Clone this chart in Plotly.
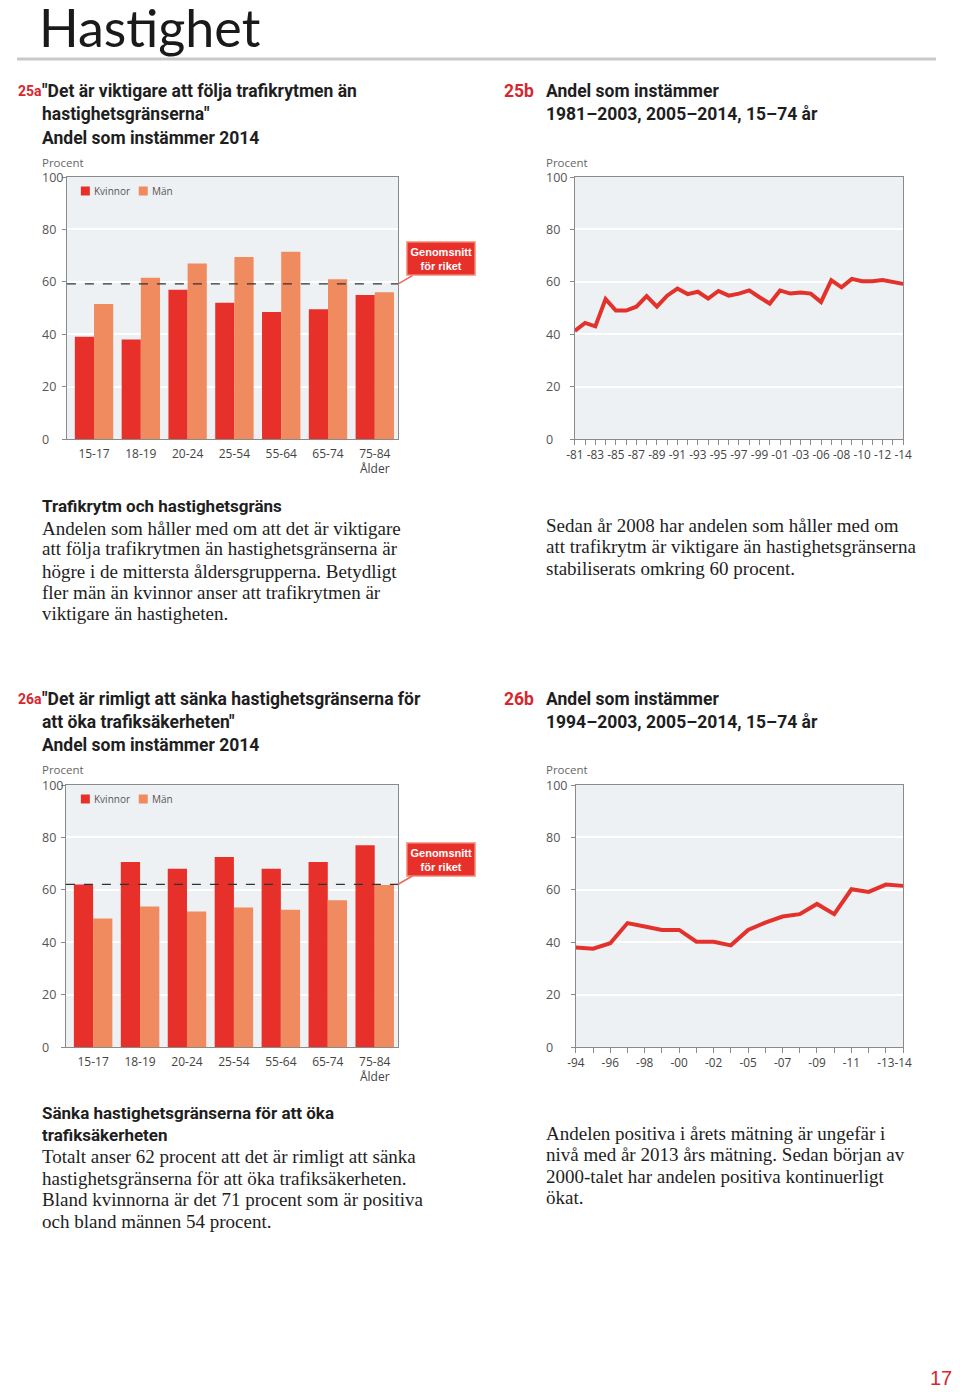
import plotly.graph_objects as go

W, H = 960, 1392

# ---------------- data ----------------
age_groups = ["15-17", "18-19", "20-24", "25-54", "55-64", "65-74", "75-84"]
age_ticktext = ["15-17", "18-19", "20-24", "25-54", "55-64", "65-74", "75-84<br>Ålder"]

# 25a: "Det är viktigare att följa trafikrytmen än hastighetsgränserna" 2014
trafik_kvinnor = [39, 38, 57, 52, 48.5, 49.5, 55]
trafik_man = [51.5, 61.5, 67, 69.5, 71.5, 61, 56]
trafik_snitt = 59.2

# 25b: Andel som instämmer 1981-2003, 2005-2014
trafik_years = [str(y) for y in list(range(1981, 2004)) + list(range(2005, 2015))]
trafik_share = [41.3, 44.3, 43.0, 53.4, 49.0, 49.0, 50.5, 54.5, 50.5, 54.7,
                57.4, 55.3, 56.2, 53.6, 56.5, 54.7, 55.5, 56.7, 54.1, 51.7,
                56.7, 55.5, 55.9, 55.5, 52.3, 60.6, 57.9, 61.1, 60.2, 60.2,
                60.7, 59.8, 59.2]
trafik_labels = ["-81", "", "-83", "", "-85", "", "-87", "", "-89", "", "-91", "",
                 "-93", "", "-95", "", "-97", "", "-99", "", "-01", "", "-03",
                 "", "-06", "", "-08", "", "-10", "", "-12", "", "-14"]

# 26a: "Det är rimligt att sänka hastighetsgränserna ..." 2014
sanka_kvinnor = [62, 70.6, 68, 72.5, 68, 70.6, 77]
sanka_man = [49, 53.6, 51.7, 53.2, 52.4, 56, 61.8]
sanka_snitt = 62.1

# 26b: Andel som instämmer 1994-2003, 2005-2014
sanka_years = [str(y) for y in list(range(1994, 2004)) + list(range(2005, 2015))]
sanka_share = [38.0, 37.5, 39.6, 47.3, 46.0, 44.7, 44.7, 40.2, 40.2, 38.8,
               44.7, 47.5, 49.8, 50.7, 54.6, 50.7, 60.2, 59.2, 62.0, 61.5]
sanka_labels = ["-94", "", "-96", "", "-98", "", "-00", "", "-02", "",
                "-05", "", "-07", "", "-09", "", "-11", "", "-13", "-14"]

y_ticks = [0, 20, 40, 60, 80, 100]
legend_names = ["Kvinnor", "Män"]

# ---------------- style ----------------
RED = "#e8302a"
ORANGE = "#f08a5f"
LINE_RED = "#e3312b"
LABEL_RED = "#d8262d"
BG = "#eef1f3"
AX = "#8a8a8a"
TXT = "#1e1e1e"
GRAY_TXT = "#555555"
SANS = "Open Sans"
HEAD = "Liberation Sans Narrow, Roboto, sans-serif"
SERIF = "Liberation Serif"

# page placement (compensates page offset in the viewer)
OX, OY, RW = 16, 8, 944


def px(x):
    return (x - OX) / RW


def py(y):
    return 1 - (y - OY) / H


fig = go.Figure()

# bars 25a
fig.add_trace(go.Bar(x=age_groups, y=trafik_kvinnor, name=legend_names[0], marker_color=RED,
                     marker_line_width=0, xaxis="x", yaxis="y", showlegend=False))
fig.add_trace(go.Bar(x=age_groups, y=trafik_man, name=legend_names[1], marker_color=ORANGE,
                     marker_line_width=0, xaxis="x", yaxis="y", showlegend=False))
# line 25b
fig.add_trace(go.Scatter(x=trafik_years, y=trafik_share, mode="lines", showlegend=False,
                         line=dict(color=LINE_RED, width=4), xaxis="x2", yaxis="y2"))
# bars 26a
fig.add_trace(go.Bar(x=age_groups, y=sanka_kvinnor, name=legend_names[0], marker_color=RED,
                     marker_line_width=0, xaxis="x3", yaxis="y3", showlegend=False))
fig.add_trace(go.Bar(x=age_groups, y=sanka_man, name=legend_names[1], marker_color=ORANGE,
                     marker_line_width=0, xaxis="x3", yaxis="y3", showlegend=False))
# line 26b
fig.add_trace(go.Scatter(x=sanka_years, y=sanka_share, mode="lines", showlegend=False,
                         line=dict(color=LINE_RED, width=4), xaxis="x4", yaxis="y4"))

# ---------------- axes ----------------
panels = {
    "1": dict(x=(66, 398), y=(177, 439)),
    "2": dict(x=(575, 904), y=(177, 439)),
    "3": dict(x=(65, 398), y=(785, 1047)),
    "4": dict(x=(576, 904), y=(785, 1047)),
}


def yaxis_cfg(dom, anchor):
    return dict(domain=[py(dom[1]), py(dom[0])], anchor=anchor, range=[0, 100],
                tickvals=y_ticks, showticklabels=False, ticks="outside", ticklen=4,
                tickcolor=AX, showgrid=True, gridcolor="white", gridwidth=2,
                zeroline=False, showline=True, linecolor=AX, linewidth=1.2,
                mirror=True, fixedrange=True)


def xbar_cfg(dom, anchor):
    return dict(domain=[px(dom[0]), px(dom[1])], anchor=anchor, type="category",
                range=[-0.58, 6.5], tickmode="array", tickvals=age_groups,
                ticktext=age_ticktext, ticks="", showgrid=False, ticklabelstandoff=3,
                tickfont=dict(family=SANS, size=12, color="#444444"),
                showline=True, linecolor=AX, linewidth=1.2, mirror=True)


def xline_cfg(dom, anchor, cats, labels):
    return dict(domain=[px(dom[0]), px(dom[1])], anchor=anchor, type="category",
                range=[0, len(cats) - 1], tickmode="array", tickvals=cats,
                ticktext=labels, ticks="outside", ticklen=5, tickcolor=AX,
                showgrid=False, tickangle=0,
                tickfont=dict(family=SANS, size=11.8, color="#444444"),
                showline=True, linecolor=AX, linewidth=1.2, mirror=True)


fig.update_layout(
    width=W, height=H, margin=dict(l=0, r=0, t=0, b=0),
    paper_bgcolor="white", plot_bgcolor=BG, barmode="group",
    bargap=0.18, bargroupgap=0, showlegend=False,
    xaxis=xbar_cfg(panels["1"]["x"], "y"),
    yaxis=yaxis_cfg(panels["1"]["y"], "x"),
    xaxis2=xline_cfg(panels["2"]["x"], "y2", trafik_years, trafik_labels),
    yaxis2=yaxis_cfg(panels["2"]["y"], "x2"),
    xaxis3=xbar_cfg(panels["3"]["x"], "y3"),
    yaxis3=yaxis_cfg(panels["3"]["y"], "x3"),
    xaxis4=xline_cfg(panels["4"]["x"], "y4", sanka_years, sanka_labels),
    yaxis4=yaxis_cfg(panels["4"]["y"], "x4"),
)

annotations = []
shapes = []


def text(x, y, s, size, color=TXT, family=SANS, bold=False, xanchor="left",
         yanchor="middle"):
    annotations.append(dict(
        x=px(x), y=py(y), xref="paper", yref="paper", text=("<b>%s</b>" % s) if bold else s,
        showarrow=False, xanchor=xanchor, yanchor=yanchor, borderpad=0,
        font=dict(family=family, size=size, color=color)))


# legends (swatch + label) inside the bar panels
for y0 in (191, 799):
    for xs, name, col in ((80, legend_names[0], RED), (138, legend_names[1], ORANGE)):
        shapes.append(dict(type="rect", xref="paper", yref="paper",
                           x0=px(xs), x1=px(xs + 9), y0=py(y0 + 4.5), y1=py(y0 - 4.5),
                           fillcolor=col, line=dict(width=0)))
        text(xs + 12, y0, name, 10, color=GRAY_TXT)

# y tick labels (left aligned as in the original)
for ax_id, xpos in (("y", 40), ("y2", 545), ("y3", 40), ("y4", 545)):
    for v in y_ticks:
        annotations.append(dict(x=px(xpos), xref="paper", y=v, yref=ax_id, text=str(v),
                                showarrow=False, xanchor="left", yanchor="middle",
                                borderpad=0,
                                font=dict(family=SANS, size=12.5, color=GRAY_TXT)))

# national average dashed lines + callouts
for xref, yref, val in (("x", "y", trafik_snitt), ("x3", "y3", sanka_snitt)):
    shapes.append(dict(type="line", xref=xref + " domain", yref=yref, x0=0, x1=1.0,
                       y0=val, y1=val, line=dict(color="#333333", width=1.3, dash="dash")))
    annotations.append(dict(
        x=1.0, y=val, xref=xref + " domain", yref=yref,
        text="<b>Genomsnitt<br>för riket</b>", showarrow=True, arrowhead=0,
        arrowwidth=1.6, arrowcolor="#ee6a5a", ax=43, ay=-25, standoff=0,
        bgcolor=RED, bordercolor="#f6a898", borderwidth=1.5, borderpad=3,
        font=dict(family="Liberation Sans, Arial", size=11, color="white"),
        align="center"))

# page header
text(37, -5, "Hastighet", 52, color="#1a1a1a", family="Lato", yanchor="top")
shapes.append(dict(type="line", xref="paper", yref="paper", x0=px(16), x1=px(937),
                   y0=py(59), y1=py(59), line=dict(color="#c9c9c9", width=3)))

# chart titles
HS = 17.5
NS = 14
text(16, 91, "25a", NS, color=LABEL_RED, family=HEAD, bold=True)
for yy, s in ((91, "\"Det är viktigare att följa trafikrytmen än"),
              (114, "hastighetsgränserna\""), (138, "Andel som instämmer 2014")):
    text(40, yy, s, HS, family=HEAD, bold=True)
text(503, 91, "25b", HS, color=LABEL_RED, family=HEAD, bold=True)
for yy, s in ((91, "Andel som instämmer"), (114, "1981–2003, 2005–2014, 15–74 år")):
    text(545, yy, s, HS, family=HEAD, bold=True)

text(16, 699, "26a", NS, color=LABEL_RED, family=HEAD, bold=True)
for yy, s in ((699, "\"Det är rimligt att sänka hastighetsgränserna för"),
              (722, "att öka trafiksäkerheten\""), (745, "Andel som instämmer 2014")):
    text(40, yy, s, HS, family=HEAD, bold=True)
text(503, 699, "26b", HS, color=LABEL_RED, family=HEAD, bold=True)
for yy, s in ((699, "Andel som instämmer"), (722, "1994–2003, 2005–2014, 15–74 år")):
    text(545, yy, s, HS, family=HEAD, bold=True)

for xx, yy in ((40, 162), (545, 162), (40, 769), (545, 769)):
    text(xx, yy, "Procent", 11.5, color="#666666")

# body texts
BS = 19
text(40, 506, "Trafikrytm och hastighetsgräns", 17, family=HEAD, bold=True)
for yy, s in ((528, "Andelen som håller med om att det är viktigare"),
              (549, "att följa trafikrytmen än hastighetsgränserna är"),
              (571, "högre i de mittersta åldersgrupperna. Betydligt"),
              (592, "fler män än kvinnor anser att trafikrytmen är"),
              (613, "viktigare än hastigheten.")):
    text(40, yy, s, BS, family=SERIF)
for yy, s in ((525, "Sedan år 2008 har andelen som håller med om"),
              (546, "att trafikrytm är viktigare än hastighetsgränserna"),
              (568, "stabiliserats omkring 60 procent.")):
    text(545, yy, s, BS, family=SERIF)

text(40, 1113, "Sänka hastighetsgränserna för att öka", 17, family=HEAD, bold=True)
text(40, 1135, "trafiksäkerheten", 17, family=HEAD, bold=True)
for yy, s in ((1156, "Totalt anser 62 procent att det är rimligt att sänka"),
              (1178, "hastighetsgränserna för att öka trafiksäkerheten."),
              (1199, "Bland kvinnorna är det 71 procent som är positiva"),
              (1221, "och bland männen 54 procent.")):
    text(40, yy, s, BS, family=SERIF)
for yy, s in ((1133, "Andelen positiva i årets mätning är ungefär i"),
              (1154, "nivå med år 2013 års mätning. Sedan början av"),
              (1176, "2000-talet har andelen positiva kontinuerligt"),
              (1197, "ökat.")):
    text(545, yy, s, BS, family=SERIF)

text(942, 1378, "17", 20, color=LABEL_RED, family="Liberation Sans", xanchor="center")

fig.update_layout(annotations=annotations, shapes=shapes)
fig.write_html("out.html")
